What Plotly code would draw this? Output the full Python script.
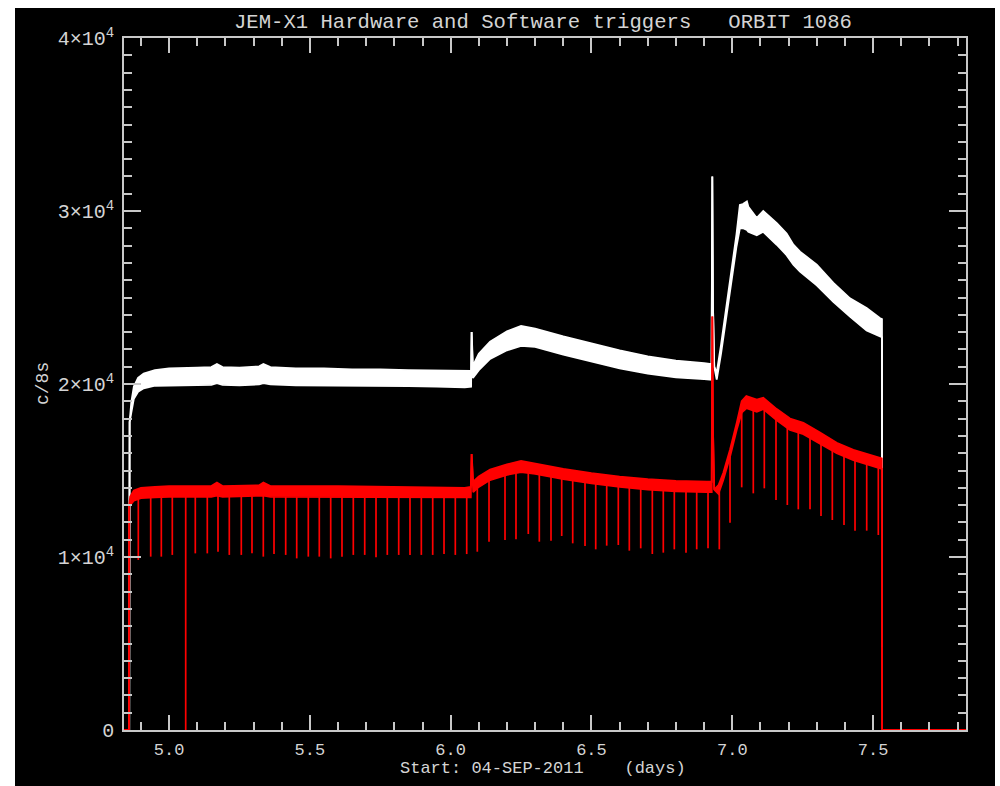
import numpy as np
import plotly.graph_objects as go

# ---------------- data ----------------
white_t = [4.8585, 4.8600, 4.8660, 4.8750, 4.8900, 4.9100, 4.9500, 5.0000, 5.1000, 5.1500,
           5.1700, 5.1900, 5.2500, 5.3200, 5.3350, 5.3600, 5.4500, 5.5500, 5.6500, 5.7500,
           5.8500, 5.9500, 6.0500, 6.0725, 6.0745, 6.0790, 6.1000, 6.1400, 6.2000, 6.2500,
           6.3000, 6.4000, 6.5000, 6.6000, 6.7000, 6.8000, 6.9000, 6.9265, 6.9291, 6.9315,
           6.9360, 6.9448, 6.9600, 6.9800, 7.0000, 7.0150, 7.0270, 7.0380, 7.0520, 7.0570,
           7.0870, 7.1100, 7.1580, 7.1930, 7.2170, 7.2406, 7.3000, 7.3590, 7.4180, 7.4770,
           7.5250, 7.5316, 7.5320]
white_lo = [0, 17800, 18350, 19150, 19550, 19750, 19900, 19920, 19950, 19950,
            20050, 19950, 19920, 19980, 20050, 19980, 19920, 19920, 19880, 19880,
            19880, 19850, 19800, 19850, 23000, 20350, 20800, 21450, 21950, 22200,
            22150, 21700, 21300, 20900, 20600, 20380, 20280, 20250, 32000, 24500,
            21000, 20250, 21750, 24050, 26250, 27950, 29000, 29000, 28900, 28800,
            28600, 28800, 28050, 27450, 26900, 26500, 25700, 24750, 23900, 23100,
            22750, 22700, 4800]
white_hi = [0, 17800, 18950, 19850, 20350, 20600, 20800, 20900, 20950, 20980,
            21150, 20980, 20950, 21020, 21150, 20980, 20900, 20900, 20850, 20850,
            20800, 20780, 20760, 20760, 23000, 21050, 21750, 22450, 23050, 23350,
            23200, 22750, 22350, 21950, 21600, 21350, 21200, 21150, 32000, 24500,
            21000, 20650, 22250, 24550, 26850, 28650, 30350, 30400, 30550, 30250,
            29600, 30000, 29300, 28700, 28050, 27650, 26900, 25850, 24950, 24400,
            23800, 23750, 4800]

red_t = [4.8400, 4.8580, 4.8585, 4.8620, 4.8750, 4.9000, 4.9500, 5.0000, 5.1500, 5.1700,
         5.1900, 5.3200, 5.3350, 5.3600, 5.6000, 5.9000, 6.0500, 6.0715, 6.0745, 6.0800,
         6.1000, 6.1400, 6.2000, 6.2500, 6.3000, 6.4000, 6.5000, 6.6000, 6.7000, 6.8000,
         6.9100, 6.9270, 6.9291, 6.9315, 6.9360, 6.9510, 6.9680, 6.9920, 7.0158, 7.0335,
         7.0500, 7.0870, 7.1100, 7.1580, 7.2050, 7.2525, 7.3116, 7.3709, 7.4300, 7.4890,
         7.5250, 7.5310, 7.5315, 7.5320, 7.8300]
red_lo = [0, 0, 13000, 13000, 13250, 13400, 13450, 13480, 13480, 13550,
          13480, 13520, 13550, 13480, 13480, 13450, 13450, 13450, 15950, 13750,
          14050, 14450, 14750, 14900, 14800, 14500, 14250, 14050, 13900, 13800,
          13750, 13750, 23900, 17300, 13900, 13650, 14450, 15800, 17350, 18350,
          18600, 18400, 18550, 17900, 17350, 17100, 16550, 16000, 15600, 15300,
          15100, 15100, 9800, 0, 0]
red_hi = [0, 0, 13000, 13500, 13850, 14000, 14050, 14100, 14100, 14300,
          14100, 14150, 14300, 14100, 14100, 14050, 14000, 14050, 15950, 14350,
          14650, 15050, 15350, 15550, 15400, 15100, 14850, 14650, 14500, 14400,
          14350, 14350, 23900, 17300, 13900, 14150, 14850, 16200, 17750, 19000,
          19300, 19100, 19200, 18550, 18000, 17750, 17200, 16600, 16200, 15900,
          15700, 15700, 9800, 0, 0]

dip_t = [4.8908, 4.9348, 4.9725, 5.0115, 5.0591, 5.0932, 5.1358, 5.1738, 5.2139, 5.2565,
         5.2945, 5.3347, 5.3727, 5.4142, 5.4533, 5.4945, 5.5335, 5.5740, 5.6141, 5.6543,
         5.6948, 5.7349, 5.7750, 5.8155, 5.8556, 5.8958, 5.9362, 5.9764, 6.0165, 6.0570,
         6.0946, 6.1362, 6.1930, 6.2320, 6.2757, 6.3148, 6.3563, 6.3943, 6.4334, 6.4771,
         6.5151, 6.5541, 6.5953, 6.6344, 6.6749, 6.7161, 6.7551, 6.7942, 6.8357, 6.8737,
         6.9139, 6.9540, 6.9920, 7.0335, 7.0747, 7.1138, 7.1553, 7.1955, 7.2345, 7.2761,
         7.3151, 7.3553, 7.3968, 7.4359, 7.4774, 7.5186]
dip_v = [9830, 10020, 10020, 10120, 0, 10210, 10210, 10310, 10120, 10120,
         10210, 10020, 10170, 10120, 9920, 10020, 10020, 9920, 10020, 10120,
         10120, 9980, 10120, 10120, 10120, 10120, 10120, 10170, 10120, 10170,
         10306, 10885, 10983, 11021, 11329, 10885, 10944, 11214, 10790, 10636,
         10443, 10655, 10694, 10366, 10501, 10173, 10251, 10443, 10251, 10443,
         10501, 10443, 11985, 14027, 13680, 13970, 13295, 13006, 12755, 12755,
         12370, 12139, 11850, 11522, 11522, 11272]

x_tickvals = [5.0, 5.5, 6.0, 6.5, 7.0, 7.5]
y_tickvals = [0, 10000, 20000, 30000, 40000]
y_ticktext = ["0", "1×10<sup>4</sup>", "2×10<sup>4</sup>", "3×10<sup>4</sup>", "4×10<sup>4</sup>"]

title_text = "JEM-X1 Hardware and Software triggers\u00a0\u00a0\u00a0ORBIT 1086"
xtitle_text = "Start: 04-SEP-2011\u00a0\u00a0\u00a0\u00a0(days)"
ytitle_text = "c/8s"

# ---------------- styling ----------------
FONT = "Liberation Mono"
AXC = "#c8c8c8"
TXC = "#d4d4d4"
W, H = 1000, 786
L, R, T, B = 124, 34, 38, 56
PW, PH = W - L - R, H - T - B


def px_to_paper_x(px):
    return (px - L) / PW


def px_to_paper_y(py):
    return (H - B - py) / PH


fig = go.Figure()

# white band (hardware triggers)
fig.add_trace(go.Scatter(x=white_t, y=white_lo, mode="lines",
                         line=dict(color="#ffffff", width=1.8),
                         hoverinfo="skip", showlegend=False))
fig.add_trace(go.Scatter(x=white_t, y=white_hi, mode="lines",
                         line=dict(color="#ffffff", width=1.8),
                         fill="tonexty", fillcolor="#ffffff",
                         hoverinfo="skip", showlegend=False))

# red band (software triggers)
fig.add_trace(go.Scatter(x=red_t, y=red_lo, mode="lines",
                         line=dict(color="#ff0000", width=1.8),
                         hoverinfo="skip", showlegend=False))
fig.add_trace(go.Scatter(x=red_t, y=red_hi, mode="lines",
                         line=dict(color="#ff0000", width=1.8),
                         fill="tonexty", fillcolor="#ff0000",
                         hoverinfo="skip", showlegend=False))

# red periodic drop-outs: vertical strokes from the band down to the dip value
tops = np.interp(dip_t, red_t, red_lo)
dx, dy = [], []
for t, v, top in zip(dip_t, dip_v, tops):
    dx += [t, t, None]
    dy += [float(top), v, None]
fig.add_trace(go.Scatter(x=dx, y=dy, mode="lines",
                         line=dict(color="#ff0000", width=1.7),
                         hoverinfo="skip", showlegend=False, connectgaps=False))

fig.update_layout(
    width=W, height=H, autosize=False,
    margin=dict(l=L, r=R, t=T, b=B, pad=0),
    paper_bgcolor="#ffffff", plot_bgcolor="#000000",
    showlegend=False,
    font=dict(family=FONT, color=TXC, size=17),
    shapes=[dict(type="rect", xref="paper", yref="paper",
                 x0=px_to_paper_x(15), x1=px_to_paper_x(995),
                 y0=px_to_paper_y(800), y1=px_to_paper_y(8),
                 fillcolor="#000000", line=dict(width=0), layer="below")],
    annotations=[
        dict(text=title_text, xref="paper", yref="paper", x=px_to_paper_x(543),
             y=px_to_paper_y(22), xanchor="center", yanchor="middle", showarrow=False,
             font=dict(family=FONT, size=20.6, color=TXC)),
        dict(text=xtitle_text, xref="paper", yref="paper", x=px_to_paper_x(543),
             y=px_to_paper_y(769), xanchor="center", yanchor="middle", showarrow=False,
             font=dict(family=FONT, size=17, color=TXC)),
        dict(text=ytitle_text, xref="paper", yref="paper", x=px_to_paper_x(43),
             y=0.5, xanchor="center", yanchor="middle", showarrow=False, textangle=-90,
             font=dict(family=FONT, size=18, color=TXC)),
    ],
)

fig.update_xaxes(
    range=[4.84, 7.83], showgrid=False, zeroline=False,
    showline=True, linecolor=AXC, linewidth=1.5, mirror="ticks",
    ticks="inside", ticklen=15, tickwidth=1.5, tickcolor=AXC,
    tickvals=x_tickvals, tickformat=".1f",
    tickfont=dict(family=FONT, size=17, color=TXC),
    ticklabelstandoff=3,
    minor=dict(ticks="inside", ticklen=8, tickwidth=1.5, tickcolor=AXC,
               dtick=0.1, tick0=5.0, showgrid=False),
)
fig.update_yaxes(
    range=[0, 40000], showgrid=False, zeroline=False,
    showline=True, linecolor=AXC, linewidth=1.5, mirror="ticks",
    ticks="inside", ticklen=17, tickwidth=1.5, tickcolor=AXC,
    tickvals=y_tickvals, ticktext=y_ticktext,
    tickfont=dict(family=FONT, size=20, color=TXC),
    ticklabelstandoff=4,
    minor=dict(ticks="inside", ticklen=8, tickwidth=1.5, tickcolor=AXC,
               dtick=1000, tick0=0, showgrid=False),
)

fig.write_html("out.html")
